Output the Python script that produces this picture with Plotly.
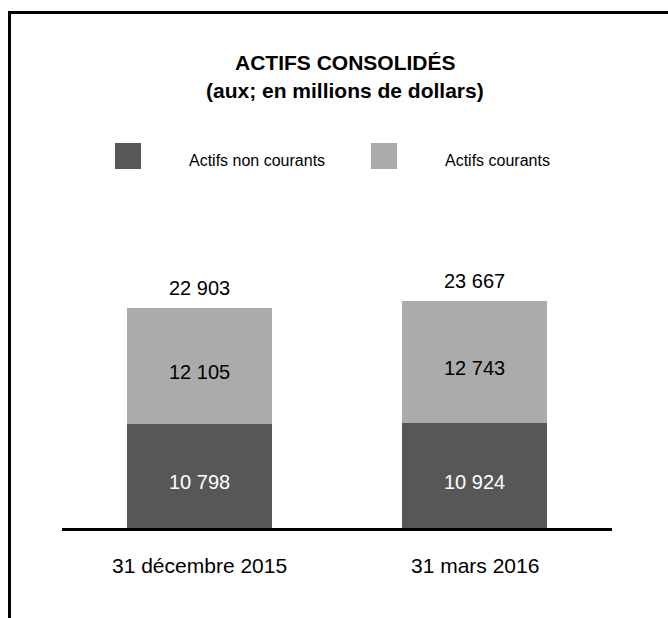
import plotly.graph_objects as go

# ---- data ----
categories = ["31 décembre 2015", "31 mars 2016"]
series_names = ["Actifs non courants", "Actifs courants"]
non_courants = [10798, 10924]
courants = [12105, 12743]
totals = [22903, 23667]
title_text = "ACTIFS CONSOLIDÉS"
subtitle_text = "(aux; en millions de dollars)"

# ---- styles ----
DARK = "#575757"
LIGHT = "#ababab"
FONT = "Liberation Sans, Arial, sans-serif"
W, H = 668, 618
ML, MR, MT, MB = 62, 56, 190, 90
PW = W - ML - MR
PH = H - MT - MB
PX_PER_UNIT = 0.0096
YMAX = PH / PX_PER_UNIT


def px_x(px):
    return (px - ML) / PW


def px_y(py):
    return (H - MB - py) / PH


def fmt(v):
    return f"{v:,}".replace(",", " ")


fig = go.Figure()
fig.add_trace(go.Bar(x=categories, y=non_courants, name=series_names[0],
                     marker=dict(color=DARK, line=dict(width=0)), hoverinfo="skip"))
fig.add_trace(go.Bar(x=categories, y=courants, name=series_names[1],
                     marker=dict(color=LIGHT, line=dict(width=0)), hoverinfo="skip"))

annotations = []
# value labels inside segments
for c, a, b in zip(categories, non_courants, courants):
    annotations.append(dict(x=c, y=a / 2, xref="x", yref="y", text=fmt(a), showarrow=False,
                            yshift=-6, font=dict(family=FONT, size=20, color="white")))
    annotations.append(dict(x=c, y=a + b / 2, xref="x", yref="y", text=fmt(b), showarrow=False,
                            yshift=-6, font=dict(family=FONT, size=20, color="black")))
# totals
for c, t in zip(categories, totals):
    annotations.append(dict(x=c, y=t, xref="x", yref="y", text=fmt(t), showarrow=False,
                            yanchor="middle", yshift=20,
                            font=dict(family=FONT, size=20, color="black")))
# category labels
for c in categories:
    annotations.append(dict(x=c, y=px_y(565), xref="x", yref="paper", text=c, showarrow=False,
                            yanchor="middle", font=dict(family=FONT, size=21, color="black")))
# title
annotations.append(dict(x=px_x(345), y=px_y(63), xref="paper", yref="paper", text=f"<b>{title_text}</b>",
                        showarrow=False, yanchor="middle",
                        font=dict(family=FONT, size=21, color="black")))
annotations.append(dict(x=px_x(345), y=px_y(90), xref="paper", yref="paper", text=f"<b>{subtitle_text}</b>",
                        showarrow=False, yanchor="middle",
                        font=dict(family=FONT, size=21, color="black")))

shapes = []
# legend
legend_pos = [(115, 187), (371, 443)]
for (sx, tx), name, col in zip(legend_pos, series_names, [DARK, LIGHT]):
    shapes.append(dict(type="rect", xref="paper", yref="paper",
                       x0=px_x(sx), x1=px_x(sx + 26), y0=px_y(169), y1=px_y(143),
                       fillcolor=col, line=dict(width=0)))
    annotations.append(dict(x=px_x(tx), y=px_y(161), xref="paper", yref="paper", text=name,
                            showarrow=False, xanchor="left", yanchor="middle",
                            font=dict(family=FONT, size=16, color="black")))
# frame
shapes.append(dict(type="line", xref="paper", yref="paper",
                   x0=px_x(8), x1=px_x(700), y0=px_y(12.5), y1=px_y(12.5),
                   line=dict(color="black", width=3)))
shapes.append(dict(type="line", xref="paper", yref="paper",
                   x0=px_x(9.5), x1=px_x(9.5), y0=px_y(11), y1=px_y(640),
                   line=dict(color="black", width=3)))

fig.update_layout(
    width=W, height=H,
    margin=dict(l=ML, r=MR, t=MT, b=MB, pad=0),
    barmode="stack", bargap=0.473,
    showlegend=False,
    plot_bgcolor="white", paper_bgcolor="white",
    annotations=annotations, shapes=shapes,
    xaxis=dict(showline=True, linecolor="black", linewidth=3, showticklabels=False,
               ticks="", showgrid=False, zeroline=False, fixedrange=True),
    yaxis=dict(visible=False, range=[0, YMAX], showgrid=False, zeroline=False, fixedrange=True),
)

fig.write_html("out.html", config={"displayModeBar": False})
